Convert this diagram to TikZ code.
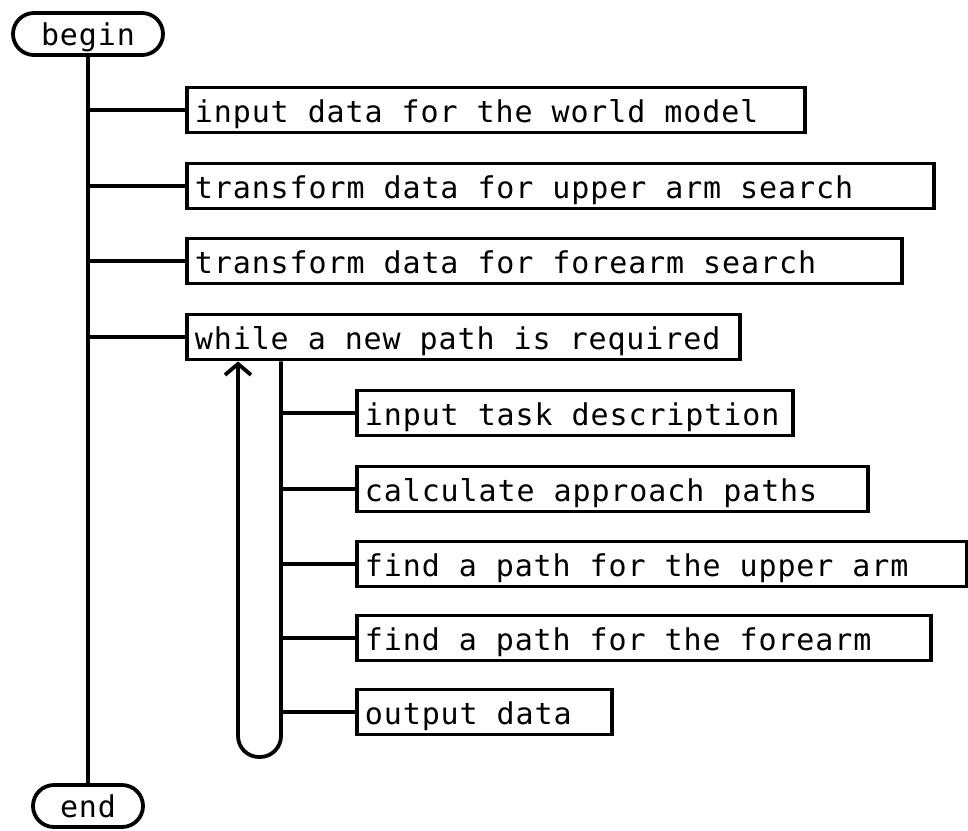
\documentclass[tikz,border=0pt]{standalone}
\usepackage{fontspec}
\newfontfamily\plotfont[LetterSpace=3]{DejaVu Sans Mono}
\usetikzlibrary{arrows.meta}

\begin{document}
\begin{tikzpicture}[x=1pt,y=-1pt,line width=3.8pt,
  font=\plotfont\fontsize{30}{36}\selectfont,
  taskbox/.style={draw,anchor=west,inner xsep=8pt,inner ysep=3pt,
    text width=#1,align=flush left,
    text height=32pt,text depth=7pt,minimum height=45pt},
  termbox/.style={draw,rounded corners=21pt,inner sep=0pt,
    minimum height=42pt,text height=22pt,text depth=0pt}]
\useasboundingbox (0,0) rectangle (968,830);

% start and stop
\node[termbox,minimum width=150pt] (begin) at (88,34) {begin};
\node[termbox,minimum width=110pt] (end) at (88,806) {end};

% outer sequence
\node[taskbox=602pt] (world) at (185,110) {input data for the world model};
\node[taskbox=731pt] (upper) at (185,186) {transform data for upper arm search};
\node[taskbox=699pt] (fore) at (185,261) {transform data for forearm search};
\node[taskbox=537pt] (while) at (185,337) {while a new path is required};

\draw (begin) -- (end);
\foreach \n in {world,upper,fore,while}
  \draw (\n.west) -- (\n.west -| begin.south);

% loop body
\node[taskbox=420pt] (task) at (355,413) {input task description};
\node[taskbox=495pt] (approach) at (355,489) {calculate approach paths};
\node[taskbox=594pt] (upperarm) at (355,564) {find a path for the upper arm};
\node[taskbox=558pt] (forearm) at (355,638) {find a path for the forearm};
\node[taskbox=239pt] (output) at (355,712) {output data};

\coordinate (loopR) at (281,757);
\coordinate (loopL) at (238,757);
\draw[rounded corners=21pt,-{Straight Barb[length=11pt,width=26pt]}]
  (while.south -| loopR) -- (loopR) -- (loopL) -- (while.south -| loopL);
\foreach \n in {task,approach,upperarm,forearm,output}
  \draw (\n.west) -- (\n.west -| loopR);
\end{tikzpicture}
\end{document}
